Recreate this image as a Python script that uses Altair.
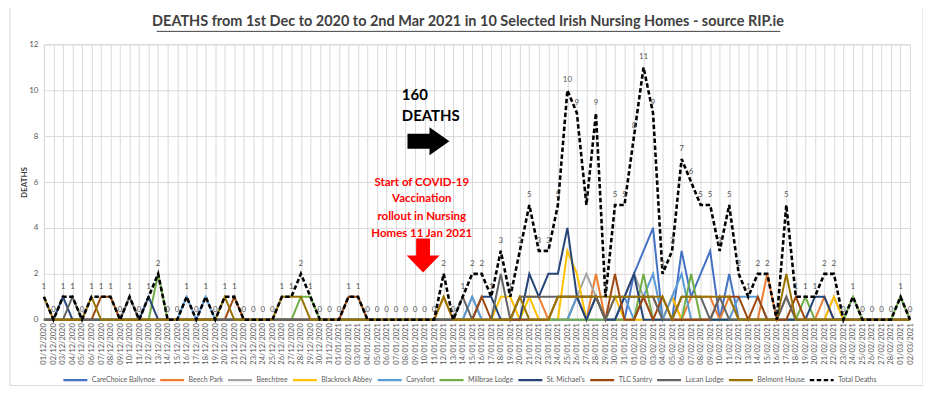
import altair as alt
import pandas as pd

# ---------------- data ----------------
dates = pd.date_range("2020-12-01", "2021-03-02", freq="D")
date_labels = [d.strftime("%d/%m/%Y") for d in dates]

homes = ["CareChoice Ballynoe", "Beech Park", "Beechtree", "Blackrock Abbey", "Carysfort",
         "Millbrae Lodge", "St. Michael's", "TLC Santry", "Lucan Lodge", "Belmont House"]
home_colors = ["#4472C4", "#ED7D31", "#A5A5A5", "#FFC000", "#5B9BD5",
               "#70AD47", "#264478", "#9E480E", "#636363", "#997300"]

Z31 = [0, 0, 0, 0, 0, 0, 0, 0, 0, 0, 0, 0, 0, 0, 0, 0, 0, 0, 0, 0, 0, 0, 0, 0, 0, 0, 0, 0, 0, 0, 0]
Z2 = [0, 0]

carechoice = Z31 + Z31 + [2, 3, 4, 0, 0, 3, 1, 2, 3, 0, 2, 0, 0, 0, 0, 0, 0, 0, 0, 0, 0, 0, 0, 0, 0, 0, 0, 0] + Z2
beech_park = (Z31 +
              [0, 0, 0, 0, 0, 0, 0, 0, 0, 0, 0, 1, 0, 0, 0, 0, 0, 0, 0, 1, 1, 1, 0, 0, 0, 1, 0, 2, 0, 0, 0] +
              [0, 1, 1, 0, 1, 0, 1, 1, 1, 0, 1, 0, 0, 0, 2, 0, 1, 0, 0, 0, 1, 0, 0, 0, 0, 0, 0, 0] + Z2)
beechtree = (Z31 +
             [0, 0, 0, 0, 0, 0, 0, 0, 0, 0, 0, 0, 0, 0, 1, 0, 0, 0, 0, 0, 0, 0, 0, 0, 0, 1, 2, 1, 0, 0, 1] +
             [2, 1, 0, 0, 0, 0, 0, 0, 0, 0, 0, 0, 0, 0, 0, 0, 1, 0, 0, 0, 0, 1, 0, 0, 0, 0, 0, 0] + Z2)
blackrock = (Z31 +
             [0, 0, 0, 0, 0, 0, 0, 0, 0, 0, 0, 0, 0, 0, 0, 0, 0, 1, 1, 0, 1, 0, 0, 0, 3, 2, 0, 1, 0, 1, 0] +
             [0, 0, 0, 0, 1, 0, 0, 0, 0, 0, 0, 0, 0, 0, 0, 0, 0, 0, 0, 0, 0, 1, 0, 0, 0, 0, 0, 0] + Z2)
carysfort = ([0, 0, 0, 0, 0, 0, 0, 0, 0, 0, 0, 0, 0, 0, 0, 1, 0, 1, 0, 0, 0, 0, 0, 0, 0, 0, 0, 0, 0, 0, 0] +
             [0, 0, 0, 0, 0, 0, 0, 0, 0, 0, 0, 0, 0, 0, 1, 0, 0, 0, 0, 0, 0, 0, 0, 0, 0, 1, 0, 1, 0, 0, 1] +
             [0, 1, 2, 0, 1, 2, 0, 0, 0, 0, 0, 1, 1, 1, 0, 0, 0, 0, 0, 0, 0, 0, 0, 0, 0, 0, 0, 0] + Z2)
millbrae = ([0, 0, 0, 0, 0, 0, 0, 0, 0, 0, 0, 0, 2, 0, 0, 0, 0, 0, 0, 0, 0, 0, 0, 0, 0, 0, 0, 1, 1, 0, 0] +
            Z31 +
            [0, 2, 0, 0, 0, 0, 2, 0, 0, 0, 0, 0, 0, 0, 0, 0, 0, 0, 1, 0, 0, 0, 0, 1, 0, 0, 0, 0] + [1, 0])
st_michaels = ([0, 0, 1, 0, 0, 0, 0, 0, 0, 0, 0, 1, 0, 0, 0, 0, 0, 0, 0, 0, 0, 0, 0, 0, 0, 0, 0, 0, 0, 0, 0] +
               [0, 0, 0, 0, 0, 0, 0, 0, 0, 0, 0, 0, 0, 0, 0, 1, 1, 0, 0, 0, 2, 1, 2, 2, 4, 1, 0, 1, 0, 0, 1] +
               [2, 0, 0, 0, 0, 0, 0, 0, 0, 0, 0, 0, 0, 0, 0, 0, 0, 0, 0, 1, 1, 0, 0, 0, 0, 0, 0, 0] + Z2)
tlc_santry = ([0, 0, 0, 0, 0, 0, 1, 1, 0, 0, 0, 0, 0, 0, 0, 0, 0, 0, 0, 0, 1, 0, 0, 0, 0, 0, 0, 0, 0, 0, 0] +
              [0, 1, 1, 0, 0, 0, 0, 0, 0, 0, 0, 0, 0, 0, 0, 1, 0, 0, 0, 0, 0, 0, 0, 1, 1, 1, 1, 1, 0, 2, 0] +
              [0, 1, 0, 1, 0, 0, 0, 0, 0, 1, 1, 1, 0, 1, 0, 0, 0, 1, 0, 0, 0, 0, 0, 0, 0, 0, 0, 0] + Z2)
lucan = ([0, 0, 0, 1, 0, 0, 0, 0, 0, 1, 0, 0, 0, 0, 0, 0, 0, 0, 0, 0, 0, 0, 0, 0, 0, 0, 0, 0, 0, 0, 0] +
         [0, 0, 0, 0, 0, 0, 0, 0, 0, 0, 0, 0, 0, 1, 0, 0, 0, 2, 0, 1, 1, 1, 1, 1, 1, 1, 1, 1, 0, 1, 1] +
         [1, 1, 1, 0, 0, 1, 1, 1, 0, 1, 0, 0, 0, 0, 0, 0, 1, 0, 0, 0, 0, 0, 0, 0, 0, 0, 0, 0] + Z2)
belmont = ([1, 0, 0, 0, 0, 1, 0, 0, 0, 0, 0, 0, 0, 0, 0, 0, 0, 0, 0, 1, 0, 0, 0, 0, 0, 1, 1, 1, 0, 0, 0] +
           [0, 0, 0, 0, 0, 0, 0, 0, 0, 0, 0, 1, 0, 0, 0, 0, 0, 0, 0, 1, 0, 0, 0, 1, 1, 1, 1, 1, 1, 1, 1] +
           [1, 1, 1, 1, 0, 1, 1, 1, 1, 1, 1, 0, 0, 0, 0, 0, 2, 0, 0, 0, 0, 0, 0, 0, 0, 0, 0, 0] + Z2)

total_deaths = ([1, 0, 1, 1, 0, 1, 1, 1, 0, 1, 0, 1, 2, 0, 0, 1, 0, 1, 0, 1, 1, 0, 0, 0, 0, 1, 1, 2, 1, 0, 0] +
                [0, 1, 1, 0, 0, 0, 0, 0, 0, 0, 0, 2, 0, 1, 2, 2, 1, 3, 1, 3, 5, 3, 3, 5, 10, 9, 5, 9, 1, 5, 5] +
                [8, 11, 9, 2, 3, 7, 6, 5, 5, 3, 5, 2, 1, 2, 2, 0, 5, 1, 1, 1, 2, 2, 0, 1, 0, 0, 0, 0] +
                [1, 0])

series_values = [carechoice, beech_park, beechtree, blackrock, carysfort,
                 millbrae, st_michaels, tlc_santry, lucan, belmont, total_deaths]
all_names = homes + ["Total Deaths"]
all_colors = home_colors + ["#000000"]
all_dashes = [[1, 0]] * 10 + [[4.5, 2.5]]

y_ticks = [0, 2, 4, 6, 8, 10, 12]

# annotations (positions in data units: day index, deaths)
note_160 = ["160", "DEATHS"]
note_160_day = [37.6, 37.6]
note_160_y = [9.78, 8.87]
red_lines = ["Start of COVID-19", "Vaccination", "rollout in Nursing", "Homes 11 Jan 2021"]
red_day = [39.7, 39.7, 39.7, 39.7]
red_y = [5.97, 5.24, 4.49, 3.75]

# ---------------- build ----------------
rows = []
for name, vals in zip(all_names, series_values):
    for i, v in enumerate(vals):
        rows.append({"day": i, "deaths": v, "home": name, "label": str(v)})
df = pd.DataFrame(rows)
N = len(date_labels)

label_expr = "[" + ",".join("'" + d + "'" for d in date_labels) + "][datum.value]"

x_enc = alt.X("day:Q",
              scale=alt.Scale(domain=[0, N - 1], nice=False, zero=False),
              axis=alt.Axis(values=list(range(N)), labelExpr=label_expr, labelAngle=270,
                            labelFontSize=7.5, labelColor="#595959", labelPadding=3,
                            labelOverlap=False, labelFlush=False, labelBound=False,
                            grid=True, gridColor="#D9D9D9",
                            domainColor="#D9D9D9", ticks=False, title=None))
y_enc = alt.Y("deaths:Q",
              scale=alt.Scale(domain=[0, 12], nice=False),
              axis=alt.Axis(values=y_ticks, labelFontSize=8, labelColor="#595959",
                            labelPadding=6, domain=False, ticks=False, gridColor="#D9D9D9",
                            title="DEATHS", titleFontSize=8, titleColor="#404040",
                            titleFontWeight="bold", titlePadding=0))

legend = alt.Legend(title=None, orient="none", legendX=18, legendY=323, direction="horizontal",
                    columns=11, symbolType="stroke", symbolSize=576, symbolStrokeWidth=2.2,
                    labelFontSize=7, labelColor="#595959", columnPadding=0, labelOffset=3,
                    labelLimit=200)

color_enc = alt.Color("home:N", scale=alt.Scale(domain=all_names, range=all_colors), legend=legend)
dash_enc = alt.StrokeDash("home:N", scale=alt.Scale(domain=all_names, range=all_dashes), legend=legend)

base = alt.Chart(df)
layers = []
for name in all_names:
    w = 2.6 if name == "Total Deaths" else 2
    layers.append(base.transform_filter(alt.datum.home == name)
                  .mark_line(strokeWidth=w)
                  .encode(x=x_enc, y=y_enc, color=color_enc, strokeDash=dash_enc))

value_labels = (base.transform_filter(alt.datum.home == "Total Deaths")
                .mark_text(dy=-10, fontSize=8, color="#595959")
                .encode(x=x_enc, y=y_enc, text="label:N"))

one = pd.DataFrame({"a": [0]})
border = alt.Chart(one).mark_rect(fillOpacity=0, stroke="#D9D9D9", strokeWidth=1).encode(
    x=alt.value(-34), x2=alt.value(881), y=alt.value(-40), y2=alt.value(342))
title = alt.Chart(one).mark_text(fontSize=14.5, fontWeight="bold", color="#404040",
                                 align="center", baseline="middle").encode(
    x=alt.value(425), y=alt.value(-22),
    text=alt.value("DEATHS from 1st Dec to 2020 to 2nd Mar 2021 in 10 Selected Irish Nursing Homes - source RIP.ie"))
underline = alt.Chart(one).mark_rule(color="#404040", strokeWidth=1).encode(
    x=alt.value(113), x2=alt.value(738), y=alt.value(-13))

ann160 = alt.Chart(pd.DataFrame({"day": note_160_day, "deaths": note_160_y, "t": note_160})).mark_text(
    fontSize=15, fontWeight="bold", color="#000000", align="left", baseline="middle").encode(
    x=x_enc, y=y_enc, text="t:N")
annred = alt.Chart(pd.DataFrame({"day": red_day, "deaths": red_y, "t": red_lines})).mark_text(
    fontSize=11.5, fontWeight="bold", color="#FF0000", align="center", baseline="middle").encode(
    x=x_enc, y=y_enc, text="t:N")

right_arrow = "M-1,-0.36L0.05,-0.36L0.05,-0.67L1,0L0.05,0.67L0.05,0.36L-1,0.36Z"
down_arrow = "M-0.41,-1L0.41,-1L0.41,0L0.97,0L0,1L-0.97,0L-0.41,0Z"
arrow_black = alt.Chart(pd.DataFrame({"day": [40.4], "deaths": [7.78]})).mark_point(
    shape=right_arrow, size=1764, filled=True, color="#000000", opacity=1, strokeWidth=0).encode(
    x=x_enc, y=y_enc)
arrow_red = alt.Chart(pd.DataFrame({"day": [39.84], "deaths": [2.8]})).mark_point(
    shape=down_arrow, size=1156, filled=True, color="#FF0000", opacity=1, strokeWidth=0).encode(
    x=x_enc, y=y_enc)

chart = alt.layer(border, *layers, value_labels, ann160, annred, arrow_black, arrow_red,
                  title, underline).properties(
    width=868, height=276, autosize="none",
    padding={"left": 36, "top": 36, "right": 13, "bottom": 66}
).configure_view(stroke=None).configure(font="Lato")

chart.save("out.html", embed_options={"renderer": "svg", "actions": False})
